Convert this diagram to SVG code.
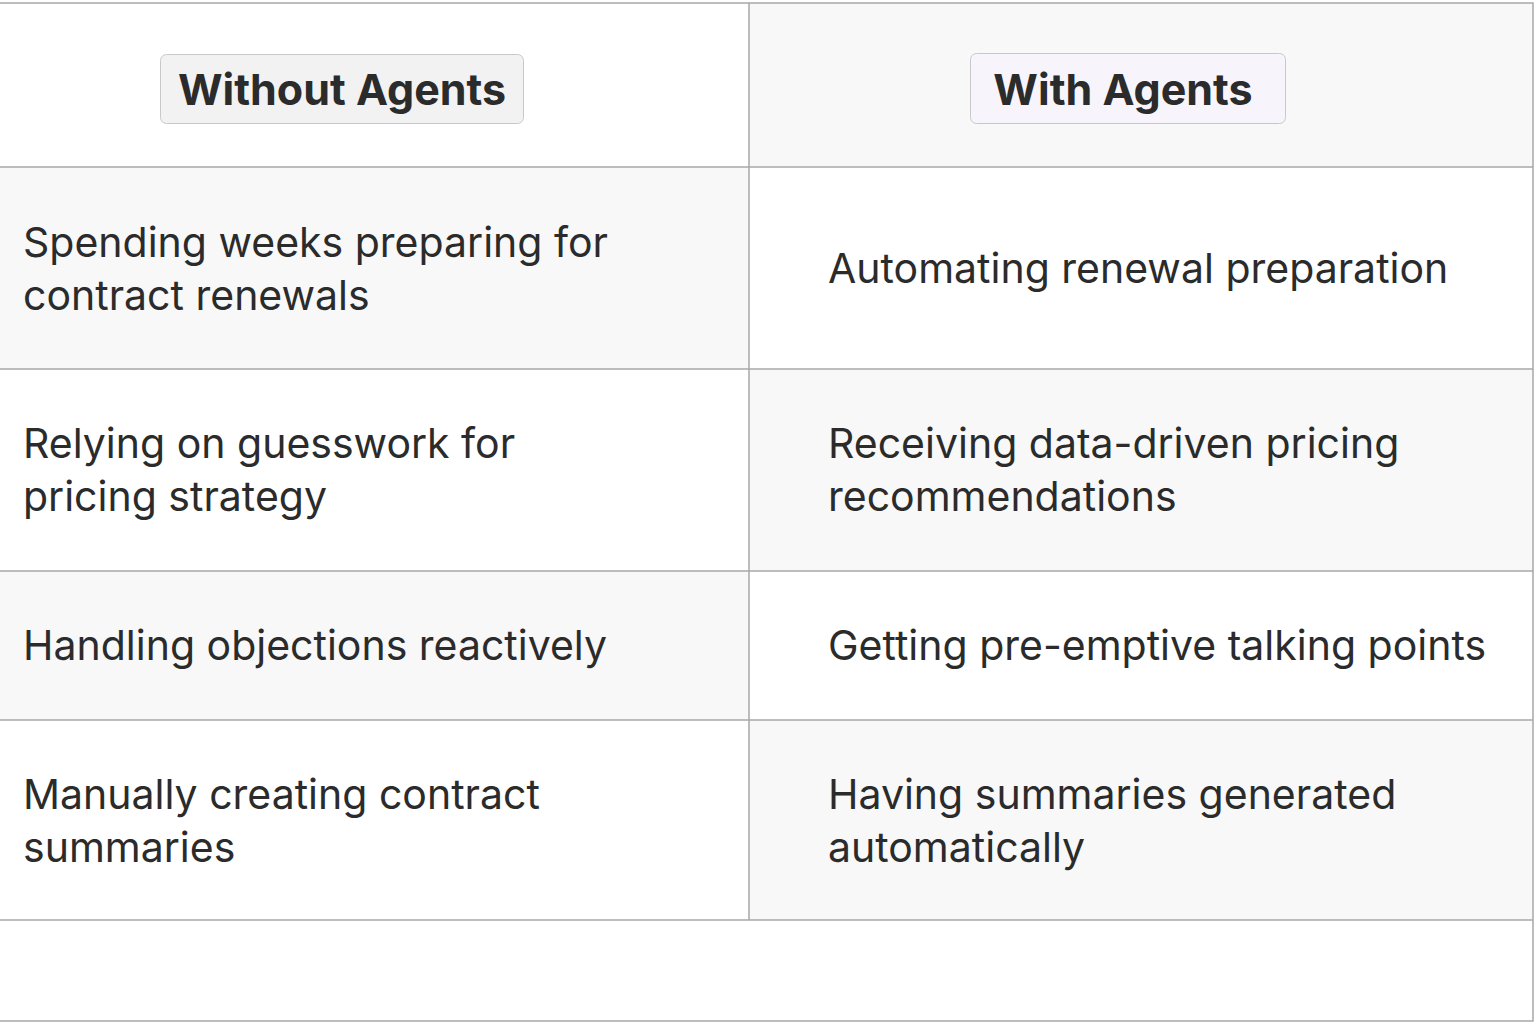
<svg xmlns="http://www.w3.org/2000/svg" width="1536" height="1024" viewBox="0 0 1536 1024">
<style>
.t{font-family:Inter,"Noto Sans","Liberation Sans",sans-serif;font-size:41px;fill:#2b2b2b}
.h{font-family:Inter,"Noto Sans","Liberation Sans",sans-serif;font-size:43px;font-weight:700;fill:#2b2b2b}
.ln{stroke:#a8a8a8;stroke-width:1.5;fill:none}
.g{fill:#f8f8f8}
</style>
<rect width="1536" height="1024" fill="#fff"/>
<rect x="749" y="3" width="784" height="164" class="g"/>
<rect x="0" y="167" width="749" height="202" class="g"/>
<rect x="749" y="369" width="784" height="202" class="g"/>
<rect x="0" y="571" width="749" height="149" class="g"/>
<rect x="749" y="720" width="784" height="200" class="g"/>
<g id="lines">
<path class="ln" d="M0 3H1533V1021H0M749 3V920M0 167H1533M0 369H1533M0 571H1533M0 720H1533M0 920H1533"/>
</g>
<g id="h1"><rect x="160.5" y="54.5" width="363" height="69" rx="6" fill="#f2f2f2" stroke="#c8c8c8"/><text class="h" x="342" y="105" text-anchor="middle">Without Agents</text></g>
<g id="h2"><rect x="970.5" y="53.5" width="315" height="70" rx="6" fill="#f8f4fc" stroke="#c8c8c8"/><text class="h" x="1123" y="105" text-anchor="middle">With Agents</text></g>
<g id="r1l"><text class="t" x="23" y="257">Spending weeks preparing for</text><text class="t" x="23" y="310">contract renewals</text></g>
<g id="r1r"><text class="t" x="828" y="283">Automating renewal preparation</text></g>
<g id="r2l"><text class="t" x="23" y="458">Relying on guesswork for</text><text class="t" x="23" y="511">pricing strategy</text></g>
<g id="r2r"><text class="t" x="828" y="458">Receiving data-driven pricing</text><text class="t" x="828" y="511">recommendations</text></g>
<g id="r3l"><text class="t" x="23" y="660">Handling objections reactively</text></g>
<g id="r3r"><text class="t" x="828" y="660">Getting pre-emptive talking points</text></g>
<g id="r4l"><text class="t" x="23" y="809">Manually creating contract</text><text class="t" x="23" y="862">summaries</text></g>
<g id="r4r"><text class="t" x="828" y="809">Having summaries generated</text><text class="t" x="828" y="862">automatically</text></g>
</svg>
